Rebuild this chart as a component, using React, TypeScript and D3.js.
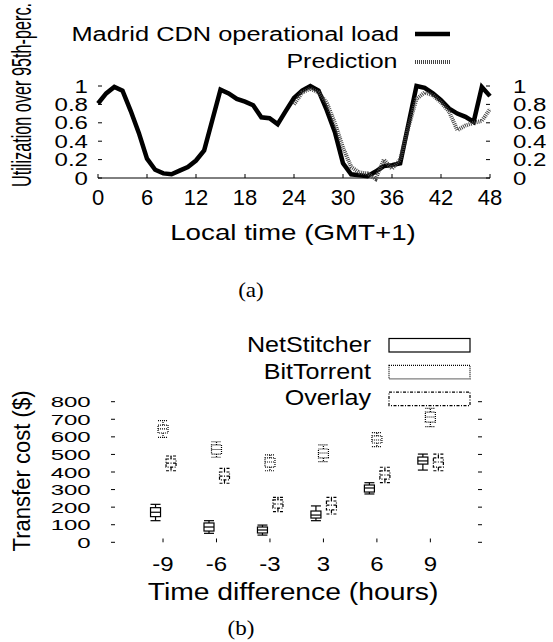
import React from "react";
import * as d3 from "d3";

// ---------- Chart (a) data ----------
const loadHours = [0,1,2,3,4,5,6,7,8,9,10,11,12,13,14,15,16,17,18,19,20,21,22,23,24,25,26,27,28,29,30,31,32,33,34,35,36,37,38,39,40,41,42,43,44,45,46,47,48];
const loadValues = [0.81,0.92,0.99,0.95,0.73,0.49,0.21,0.09,0.05,0.04,0.08,0.12,0.19,0.30,0.63,0.96,0.92,0.86,0.83,0.79,0.66,0.65,0.585,0.73,0.87,0.95,1.0,0.95,0.74,0.50,0.16,0.04,0.03,0.02,0.07,0.13,0.14,0.16,0.58,1.0,0.98,0.92,0.845,0.755,0.70,0.665,0.61,0.99,0.89];
const predHours = [24,25,26,27,28,29,30,31,32,33,34,35,36,37,38,39,40,41,42,43,44,45,46,47,48];
const predValues = [0.80,0.93,0.97,0.93,0.82,0.60,0.33,0.12,0.06,0.05,-0.01,0.20,0.10,0.20,0.55,0.86,0.93,0.90,0.82,0.72,0.52,0.57,0.60,0.62,0.75];
const xTicksA = [0,6,12,18,24,30,36,42,48];
const yTicksA = [0,0.2,0.4,0.6,0.8,1];
const yTickLabelsA = ["0","0.2","0.4","0.6","0.8","1"];

// ---------- Chart (b) data ----------
const timeDiffs = ["-9","-6","-3","3","6","9"];
// [min, q1, median, q3, max]
const netStitcher = [[123,146,171,197,216],[51,64,87,110,123],[41,53,70,87,98],[123,138,155,178,207],[275,286,309,326,339],[411,445,463,485,502]];
const bitTorrent = [[597,622,645,667,692],[484,502,528,554,572],[407,428,457,480,497],[459,480,508,531,554],[544,565,582,605,624],[658,684,713,741,762]];
const overlay = [[407,428,451,474,491],[336,355,377,400,421],[174,195,218,241,256],[161,184,212,235,256],[339,360,383,406,427],[407,428,457,480,502]];
const seriesNamesB = ["NetStitcher","BitTorrent","Overlay"];
const yTicksB = [0,100,200,300,400,500,600,700,800];

const FONT = "'Liberation Sans', Arial, Helvetica, sans-serif";
const SERIF = "'Liberation Serif', 'DejaVu Serif', serif";

function T({x,y,size,sx=1,anchor="start",rotate=0,family=FONT,children}:{x:number;y:number;size:number;sx?:number;anchor?:string;rotate?:number;family?:string;children:any}) {
  return (
    <text transform={`translate(${x},${y}) rotate(${rotate}) scale(${sx},1)`} fontSize={size} fontFamily={family} textAnchor={anchor} fill="#000">
      {children}
    </text>
  );
}

export default function App() {
  // chart (a)
  const xA = d3.scaleLinear().domain([0,48]).range([98,490]);
  const yA = d3.scaleLinear().domain([0,1]).range([178,86]);
  const lineA = d3.line<number>().x((_,i)=>xA(loadHours[i])).y(d=>yA(d));
  const lineP = d3.line<number>().x((_,i)=>xA(predHours[i])).y(d=>yA(d));

  // chart (b)
  const xB = d3.scaleLinear().domain([-0.96,5.96]).range([111.7,481.7]);
  const yB = d3.scaleLinear().domain([0,800]).range([542.3,401.7]);
  const offsets = [-7.5,0,8];
  const dashes = [null,"1,1","3,1.5,1,1.5"];
  const seriesB = [netStitcher,bitTorrent,overlay];
  const bw = 5;

  return (
    <svg width={553} height={642} style={{position:"absolute",left:0,top:0,display:"block",background:"#fff"}}>
      <rect x={0} y={0} width={553} height={642} fill="#fff"/>
      {/* ===== Chart (a) ===== */}
      <line x1={xA(0)} x2={xA(48)} y1={yA(0)} y2={yA(0)} stroke="#000" strokeWidth={1}/>
      {xTicksA.map(t=>(
        <g key={"xa"+t}>
          <line x1={xA(t)} x2={xA(t)} y1={yA(0)} y2={yA(0)-4} stroke="#000" strokeWidth={1}/>
          <T x={xA(t)} y={205} size={22} anchor="middle">{String(t)}</T>
        </g>
      ))}
      {yTicksA.map((t,i)=>(
        <g key={"ya"+t}>
          <line x1={xA(0)} x2={xA(0)+4} y1={yA(t)} y2={yA(t)} stroke="#000" strokeWidth={1}/>
          <line x1={xA(48)} x2={xA(48)-4} y1={yA(t)} y2={yA(t)} stroke="#000" strokeWidth={1}/>
          <T x={88} y={yA(t)+6.6} size={18.5} sx={1.3} anchor="end">{yTickLabelsA[i]}</T>
          <T x={513} y={yA(t)+6.6} size={18.5} sx={1.3} anchor="start">{yTickLabelsA[i]}</T>
        </g>
      ))}
      <path d={lineA(loadValues) || ""} fill="none" stroke="#000" strokeWidth={4.5} strokeLinejoin="miter"/>
      <path d={lineP(predValues) || ""} fill="none" stroke="#444" strokeWidth={4} strokeDasharray="1,1"/>
      {/* legend a */}
      <T x={399} y={40.5} size={20} sx={1.27} anchor="end">Madrid CDN operational load</T>
      <line x1={415} x2={450} y1={34} y2={34} stroke="#000" strokeWidth={4.5}/>
      <T x={397.5} y={68} size={20} sx={1.25} anchor="end">Prediction</T>
      <line x1={415} x2={450} y1={62} y2={62} stroke="#444" strokeWidth={4} strokeDasharray="1,1"/>
      {/* axis titles a */}
      <T x={293} y={240} size={22} sx={1.26} anchor="middle">Local time (GMT+1)</T>
      <T x={31} y={95} size={28} sx={0.58} anchor="middle" rotate={-90}>Utilization over 95th-perc.</T>
      <T x={251} y={297} size={21} sx={1.1} anchor="middle" family={SERIF}>(a)</T>

      {/* ===== Chart (b) ===== */}
      {yTicksB.map(t=>(
        <g key={"yb"+t}>
          <line x1={111} x2={115} y1={yB(t)} y2={yB(t)} stroke="#000" strokeWidth={1}/>
          <line x1={478} x2={482} y1={yB(t)} y2={yB(t)} stroke="#000" strokeWidth={1}/>
          <T x={90.7} y={yB(t)+5.5} size={15.5} sx={1.55} anchor="end">{String(t)}</T>
        </g>
      ))}
      {timeDiffs.map((lab,i)=>(
        <g key={"xb"+lab}>
          <line x1={xB(i)} x2={xB(i)} y1={538.5} y2={542.3} stroke="#000" strokeWidth={1}/>
          <T x={xB(i)} y={571} size={20} sx={1.2} anchor="middle">{lab}</T>
        </g>
      ))}
      {seriesB.map((ser,s)=>(
        <g key={"s"+s} stroke="#000" strokeWidth={1.2} fill="none" strokeDasharray={dashes[s] || undefined}>
          {ser.map((v,i)=>{
            const cx = xB(i)+offsets[s];
            return (
              <g key={i}>
                <rect x={cx-bw} y={yB(v[3])} width={bw*2} height={yB(v[1])-yB(v[3])}/>
                <line x1={cx-bw} x2={cx+bw} y1={yB(v[2])} y2={yB(v[2])}/>
                <line x1={cx} x2={cx} y1={yB(v[3])} y2={yB(v[4])}/>
                <line x1={cx} x2={cx} y1={yB(v[1])} y2={yB(v[0])}/>
                <line x1={cx-bw} x2={cx+bw} y1={yB(v[4])} y2={yB(v[4])}/>
                <line x1={cx-bw} x2={cx+bw} y1={yB(v[0])} y2={yB(v[0])}/>
              </g>
            );
          })}
        </g>
      ))}
      {/* legend b */}
      {seriesNamesB.map((n,s)=>(
        <g key={"lb"+n}>
          <T x={371} y={352+s*26.7} size={22} sx={1.14} anchor="end">{n}</T>
          <rect x={389} y={338.5+s*26.8} width={81} height={13.5} fill="none" stroke="#000" strokeWidth={1.2} strokeDasharray={dashes[s] || undefined}/>
        </g>
      ))}
      <T x={293} y={600} size={23} sx={1.23} anchor="middle">Time difference (hours)</T>
      <T x={30} y={471} size={24} sx={0.92} anchor="middle" rotate={-90}>Transfer cost ($)</T>
      <T x={241} y={635} size={21} sx={1.1} anchor="middle" family={SERIF}>(b)</T>
    </svg>
  );
}
